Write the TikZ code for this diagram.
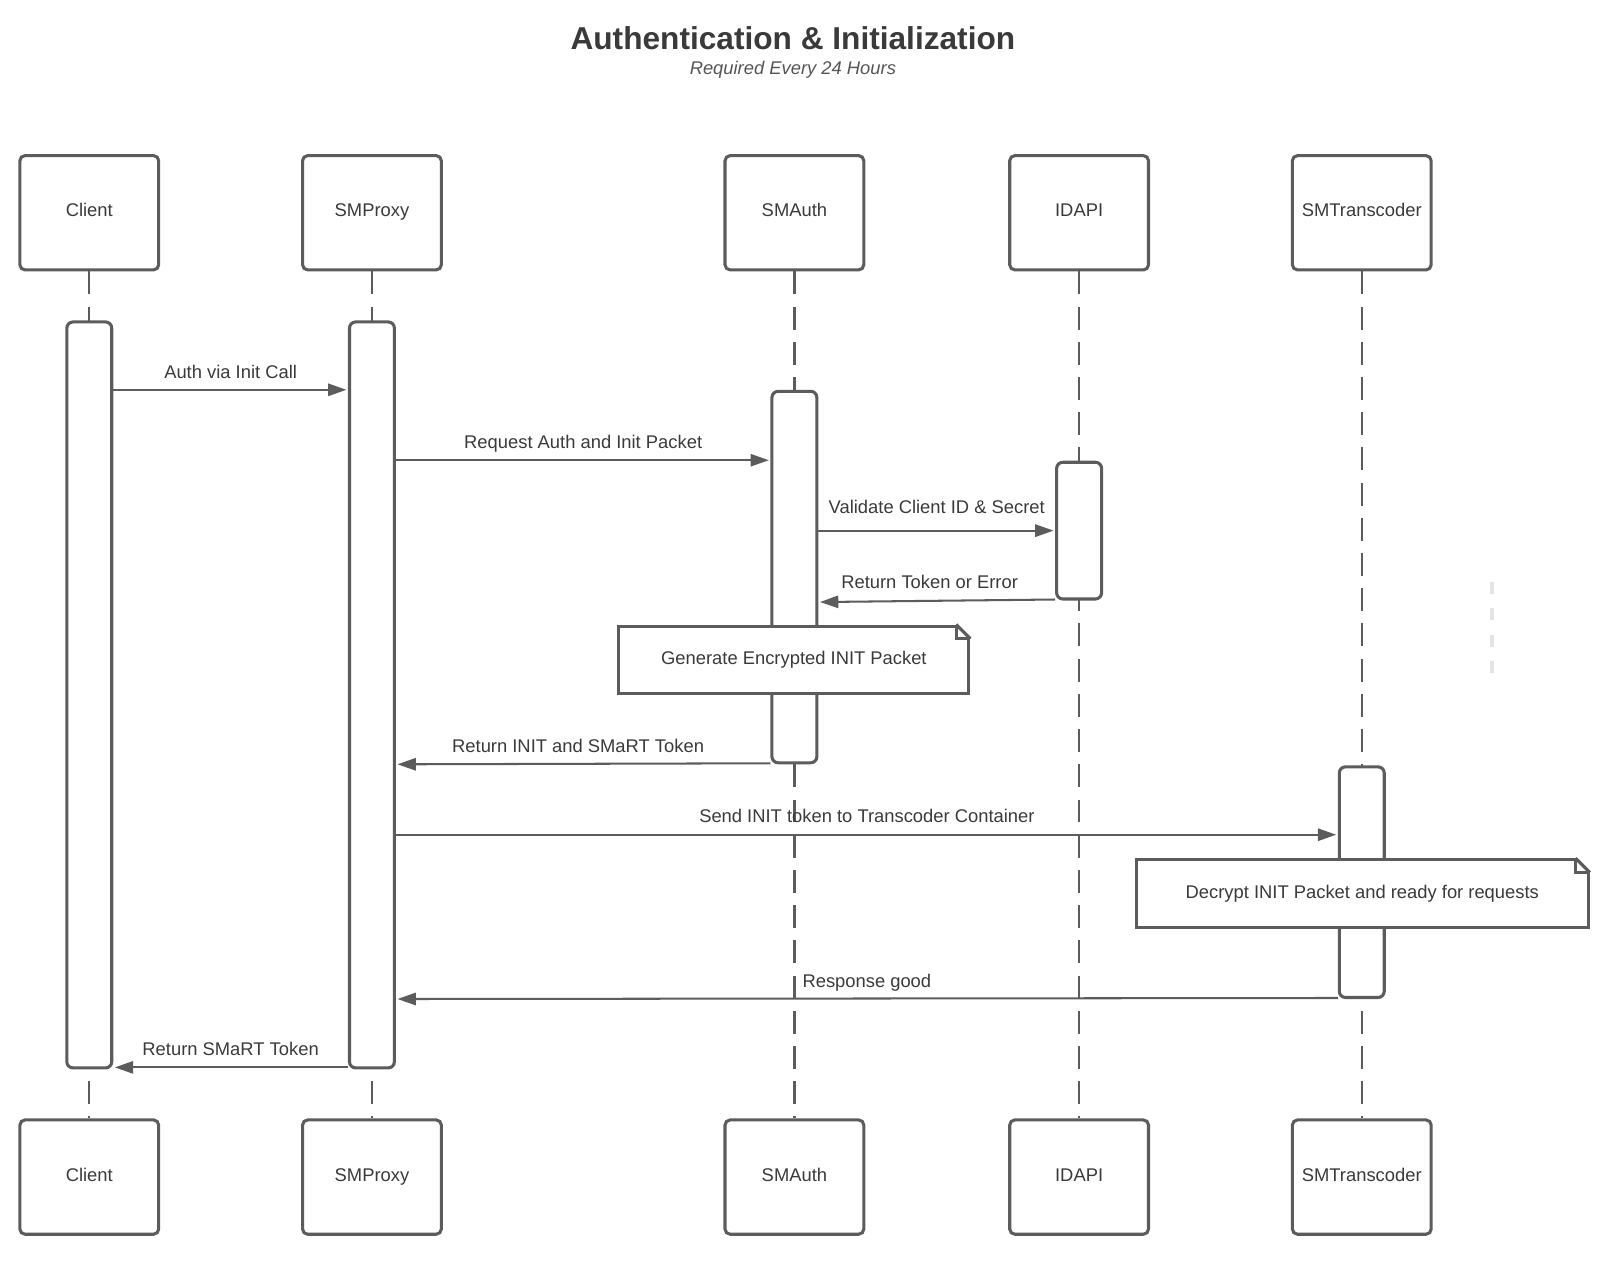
\documentclass[tikz,border=0pt]{standalone}
\usepackage{fontspec}
\setmainfont{Liberation Sans}
\usetikzlibrary{arrows.meta}
\definecolor{lc}{HTML}{5C5C5C}
\definecolor{tc}{HTML}{3A3A3A}
\definecolor{sc}{HTML}{555555}
\definecolor{fc}{HTML}{E4E4E4}
\begin{document}
\begin{tikzpicture}[x=1pt,y=-1pt,
  head/.style={draw=lc, line width=3pt, rounded corners=5pt, fill=white, minimum width=136pt, minimum height=112pt, inner sep=0pt, text height=13pt, text depth=5pt, font=\fontsize{18}{21}\selectfont, text=tc},
  bar/.style={draw=lc, line width=3pt, rounded corners=6pt, fill=white, minimum width=44pt, inner sep=0pt},
  life/.style={draw=lc, line width=2.3pt, dash pattern=on 22.5pt off 12pt},
  msg/.style={draw=lc, line width=2pt, -{Triangle[length=18pt,width=12pt]}, shorten >=1.5pt},
  lbl/.style={font=\fontsize{18}{21}\selectfont, text=tc, anchor=base, inner sep=0pt},
  note/.style={draw=lc, line width=3pt, fill=white, inner sep=0pt, minimum height=66pt, font=\fontsize{18}{21}\selectfont, text=tc},
  fold/.style={draw=lc, line width=3pt, line join=miter},
]
\useasboundingbox (0,0) rectangle (1566,1238.7);

% title
\node[font=\bfseries\fontsize{31}{36}\selectfont, text=tc] (title) at (777,37) {Authentication \& Initialization};
\node[font=\itshape\fontsize{18}{21}\selectfont, text=sc] (sub) at (777,68.5) {Required Every 24 Hours};

% heads
\node[head] (hC) at (87.5,208.5) {Client};
\node[head] (hP) at (364.5,208.5) {SMProxy};
\node[head] (hA) at (778.5,208.5) {SMAuth};
\node[head] (hI) at (1057.5,208.5) {IDAPI};
\node[head] (hT) at (1334.5,208.5) {SMTranscoder};
\node[head] (fC) at (87.5,1153.5) {Client};
\node[head] (fP) at (364.5,1153.5) {SMProxy};
\node[head] (fA) at (778.5,1153.5) {SMAuth};
\node[head] (fI) at (1057.5,1153.5) {IDAPI};
\node[head] (fT) at (1334.5,1153.5) {SMTranscoder};

% lifelines
\draw[life] (hC.south) -- (fC.north);
\draw[life] (hP.south) -- (fP.north);
\draw[life] (hA.south) -- (fA.north);
\draw[life] (hI.south) -- (fI.north);
\draw[life] (hT.south) -- (fT.north);

% stray faint dashes
\coordinate (g1) at (1462,570);
\coordinate (g2) at (1462,660);
\draw[fc, line width=3.5pt, dash pattern=on 12pt off 14pt] (g1) -- (g2);

% activation bars
\node[bar, minimum height=731pt] (aC) at (87.5,681) {};
\node[bar, minimum height=731pt] (aP) at (364.5,681) {};
\node[bar, minimum height=364pt] (aA) at (778.5,565.5) {};
\node[bar, minimum height=134pt] (aI) at (1057.5,520) {};
\node[bar, minimum height=226pt] (aT) at (1334.5,864.5) {};

% message levels
\coordinate (m1) at (0,382);
\coordinate (m2) at (0,451);
\coordinate (m3) at (0,520);
\coordinate (m4a) at (0,587.5);
\coordinate (m4b) at (0,590);
\coordinate (m6a) at (0,748);
\coordinate (m6b) at (0,749);
\coordinate (m7) at (0,818);
\coordinate (m9a) at (0,978);
\coordinate (m9b) at (0,979);
\coordinate (m10) at (0,1046);

\draw[msg] (aC.east |- m1) -- (aP.west |- m1) node[lbl, midway, yshift=11.5pt] {Auth via Init Call};
\draw[msg] (aP.east |- m2) -- (aA.west |- m2) node[lbl, midway, yshift=11.5pt] {Request Auth and Init Packet};
\draw[msg] (aA.east |- m3) -- (aI.west |- m3) node[lbl, midway, yshift=16.5pt] {Validate Client ID \& Secret};
\draw[msg] (aI.west |- m4a) -- (aA.east |- m4b) node[lbl, midway, yshift=12.5pt, xshift=-7pt] {Return Token or Error};
\draw[msg] (aA.west |- m6a) -- (aP.east |- m6b) node[lbl, midway, yshift=11pt, xshift=-5pt] {Return INIT and SMaRT Token};
\draw[msg] (aP.east |- m7) -- (aT.west |- m7) node[lbl, midway, yshift=11.5pt] {Send INIT token to Transcoder Container};
\draw[msg] (aT.west |- m9a) -- (aP.east |- m9b) node[lbl, midway, yshift=11pt] {Response good};
\draw[msg] (aP.west |- m10) -- (aC.east |- m10) node[lbl, midway, yshift=11.5pt] {Return SMaRT Token};

% notes
\node[note, minimum width=343pt] (n1) at (778,646.5) {Generate Encrypted INIT Packet};
\fill[white] ([xshift=-16pt,yshift=2pt]n1.north east) -- ([xshift=3pt,yshift=3pt]n1.north east) -- ([xshift=2pt,yshift=-16pt]n1.north east) -- cycle;
\draw[fold] ([xshift=-14pt]n1.north east) -- ([yshift=-14pt]n1.north east);
\draw[fold] ([xshift=-14pt]n1.north east) -- ([xshift=-14pt,yshift=-14pt]n1.north east) -- ([yshift=-14pt]n1.north east);

\node[note, minimum width=443pt] (n2) at (1335,875.5) {Decrypt INIT Packet and ready for requests};
\fill[white] ([xshift=-16pt,yshift=2pt]n2.north east) -- ([xshift=3pt,yshift=3pt]n2.north east) -- ([xshift=2pt,yshift=-16pt]n2.north east) -- cycle;
\draw[fold] ([xshift=-14pt]n2.north east) -- ([yshift=-14pt]n2.north east);
\draw[fold] ([xshift=-14pt]n2.north east) -- ([xshift=-14pt,yshift=-14pt]n2.north east) -- ([yshift=-14pt]n2.north east);
\end{tikzpicture}
\end{document}
